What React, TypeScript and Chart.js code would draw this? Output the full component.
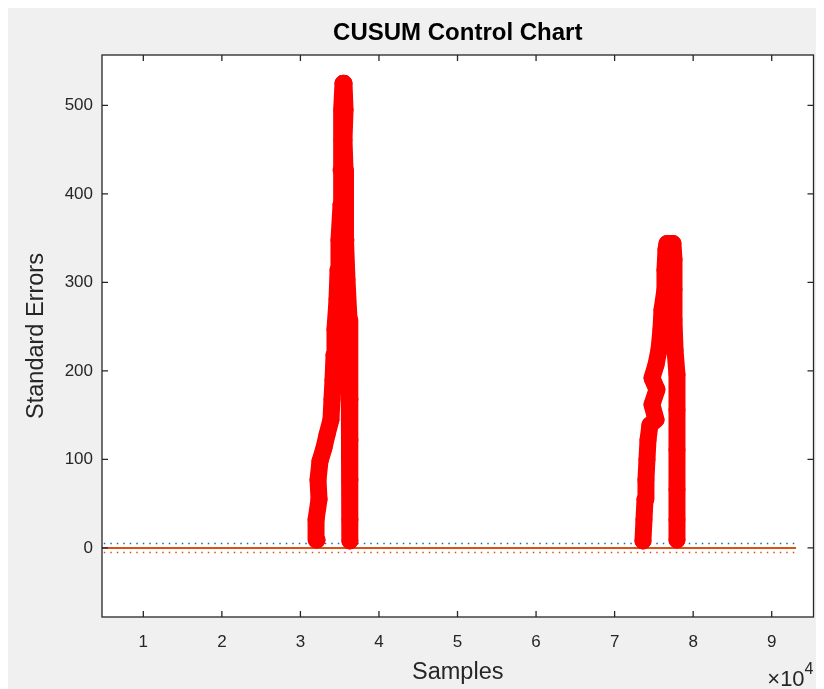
import { useEffect, useRef } from "react";
import { Chart, registerables } from "chart.js";

Chart.register(...registerables);

const chartTitle = "CUSUM Control Chart";
const xTitle = "Samples";
const yTitle = "Standard Errors";
const exponentBase = "\u00d710";
const exponentPower = "4";

const xRange = [4740, 95320];
const yRange = [-78, 557];
const xTickValues = [10000, 20000, 30000, 40000, 50000, 60000, 70000, 80000, 90000];
const yTickValues = [0, 100, 200, 300, 400, 500];

// control limits
const limitSamples = [1, 93100];
const upperLimit = [5, 5];
const centerLine = [0, 0];
const lowerLimit = [-5, -5];

// out-of-control CUSUM points, first burst
const burst1Samples = [32110, 31990, 32370, 32240, 32490, 33000, 33390, 33890, 34020, 34150, 34280, 34400, 34660, 34790, 34910, 35170, 35170, 35290, 35290, 35420, 35550, 35680, 35550, 35680, 35680, 35800, 35930, 36190, 36190, 36310, 36310, 36310, 36310, 36310];
const burst1Values = [9, 32, 55, 77, 98, 113, 128, 145, 168, 190, 218, 247, 281, 314, 348, 388, 427, 461, 495, 525, 525, 495, 461, 427, 388, 348, 303, 258, 213, 168, 122, 77, 32, 8];

// out-of-control CUSUM points, second burst
const burst2Samples = [73610, 73740, 73870, 73990, 74120, 74250, 74500, 75270, 74760, 75390, 74760, 75270, 75650, 75900, 76030, 76410, 76410, 76540, 76670, 77430, 77560, 77560, 77560, 77690, 77940, 77940, 77940, 77940, 77940, 77940];
const burst2Values = [8, 32, 55, 77, 100, 122, 139, 145, 162, 179, 192, 207, 224, 247, 269, 292, 314, 337, 344, 344, 326, 292, 258, 224, 196, 156, 111, 66, 32, 9];

const FONT = '"Liberation Sans", Arial, Helvetica, sans-serif';
const AXIS_COLOR = "#262626";

const pairs = (xs: number[], ys: number[]) => xs.map((x, i) => ({ x, y: ys[i] }));

const framePlugin = {
  id: "matlabFrame",
  afterLayout(chart: any) {
    const tb = chart.titleBlock;
    const a = chart.chartArea;
    if (tb && a) {
      tb.left = a.left;
      tb.right = a.right;
      tb.width = a.right - a.left;
    }
  },
  beforeDraw(chart: any) {
    const { ctx, chartArea: a } = chart;
    ctx.save();
    ctx.fillStyle = "#ffffff";
    ctx.fillRect(a.left, a.top, a.right - a.left, a.bottom - a.top);
    ctx.restore();
  },
  afterDraw(chart: any) {
    const { ctx, chartArea: a, scales } = chart;
    const xs = scales.x;
    const ys = scales.y;
    ctx.save();
    ctx.strokeStyle = AXIS_COLOR;
    ctx.lineWidth = 1.3;
    ctx.strokeRect(a.left, a.top, a.right - a.left, a.bottom - a.top);
    ctx.beginPath();
    const tl = 6;
    for (const t of xs.ticks) {
      const px = xs.getPixelForValue(t.value);
      ctx.moveTo(px, a.bottom);
      ctx.lineTo(px, a.bottom - tl);
      ctx.moveTo(px, a.top);
      ctx.lineTo(px, a.top + tl);
    }
    for (const t of ys.ticks) {
      const py = ys.getPixelForValue(t.value);
      ctx.moveTo(a.left, py);
      ctx.lineTo(a.left + tl, py);
      ctx.moveTo(a.right, py);
      ctx.lineTo(a.right - tl, py);
    }
    ctx.stroke();
    // exponent label
    ctx.fillStyle = AXIS_COLOR;
    ctx.textAlign = "right";
    ctx.textBaseline = "alphabetic";
    ctx.font = `16px ${FONT}`;
    const w = ctx.measureText(exponentPower).width;
    ctx.fillText(exponentPower, a.right, a.bottom + 57);
    ctx.font = `22px ${FONT}`;
    ctx.fillText(exponentBase, a.right - w, a.bottom + 69);
    ctx.restore();
  },
};

export default function App() {
  const ref = useRef<HTMLCanvasElement | null>(null);

  useEffect(() => {
    if (!ref.current) return;
    const burstStyle = {
      showLine: true,
      borderColor: "#ff0000",
      backgroundColor: "#ff0000",
      borderWidth: 17,
      borderJoinStyle: "round" as const,
      borderCapStyle: "round" as const,
      pointRadius: 8,
      pointBorderWidth: 1,
      pointBackgroundColor: "#ff0000",
      pointBorderColor: "#ff0000",
      tension: 0,
    };
    const chart = new Chart(ref.current, {
      type: "scatter",
      data: {
        datasets: [
          { label: "burst1", data: pairs(burst1Samples, burst1Values), ...burstStyle },
          { label: "burst2", data: pairs(burst2Samples, burst2Values), ...burstStyle },
          {
            label: "upper",
            data: pairs(limitSamples, upperLimit),
            showLine: true,
            borderColor: "#0072BD",
            borderWidth: 1.5,
            borderDash: [1.5, 5],
            pointRadius: 0,
          },
          {
            label: "center",
            data: pairs(limitSamples, centerLine),
            showLine: true,
            borderColor: "#D95319",
            borderWidth: 2,
            pointRadius: 0,
          },
          {
            label: "lower",
            data: pairs(limitSamples, lowerLimit),
            showLine: true,
            borderColor: "#D95319",
            borderWidth: 1.5,
            borderDash: [1.5, 5],
            pointRadius: 0,
          },
        ],
      },
      options: {
        animation: false,
        responsive: false,
        devicePixelRatio: 1,
        events: [],
        layout: { padding: { top: 0, right: 10.5, bottom: 0, left: 0 } },
        plugins: {
          legend: { display: false },
          tooltip: { enabled: false },
          title: {
            display: true,
            text: chartTitle,
            color: "#000000",
            font: { family: FONT, size: 24, weight: "bold" },
            padding: { top: 10.6, bottom: 7.6 },
          },
        },
        scales: {
          x: {
            type: "linear",
            min: xRange[0],
            max: xRange[1],
            afterBuildTicks: (s: any) => {
              s.ticks = xTickValues.map((v) => ({ value: v }));
            },
            afterFit: (s: any) => {
              s.height = 72;
            },
            grid: { display: false, drawTicks: false },
            border: { display: false },
            ticks: {
              color: AXIS_COLOR,
              font: { family: FONT, size: 17 },
              padding: 15,
              maxRotation: 0,
              autoSkip: false,
              callback: (v: any) => String(Number(v) / 10000),
            },
            title: {
              display: true,
              text: xTitle,
              color: AXIS_COLOR,
              font: { family: FONT, size: 23.5 },
              padding: { top: 0, bottom: 2 },
            },
          },
          y: {
            type: "linear",
            min: yRange[0],
            max: yRange[1],
            afterBuildTicks: (s: any) => {
              s.ticks = yTickValues.map((v) => ({ value: v }));
            },
            afterFit: (s: any) => {
              s.width = 94;
            },
            grid: { display: false, drawTicks: false },
            border: { display: false },
            ticks: {
              color: AXIS_COLOR,
              font: { family: FONT, size: 17 },
              padding: 9,
              autoSkip: false,
            },
            title: {
              display: true,
              text: yTitle,
              color: AXIS_COLOR,
              font: { family: FONT, size: 23.5 },
              padding: { top: 14, bottom: 0 },
            },
          },
        },
      },
      plugins: [framePlugin],
    });
    return () => chart.destroy();
  }, []);

  return (
    <div style={{ width: 816, height: 681, background: "#f0f0f0" }}>
      <canvas ref={ref} width={816} height={681} style={{ display: "block" }} />
    </div>
  );
}
